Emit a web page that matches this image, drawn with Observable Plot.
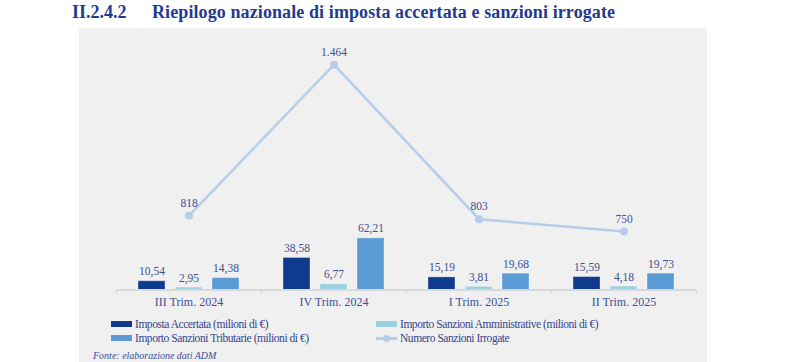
<!DOCTYPE html>
<html>
<head>
<meta charset="utf-8">
<script src="https://cdn.jsdelivr.net/npm/d3@7"></script>
<script src="https://cdn.jsdelivr.net/npm/@observablehq/plot@0.6"></script>
<style>
  html, body { margin: 0; padding: 0; background: #ffffff; width: 789px; height: 362px; overflow: hidden; }
  body { position: relative; font-family: 'Liberation Serif', 'DejaVu Serif', serif; }
  #title { position: absolute; top: 2px; left: 72px; font-weight: bold; font-size: 18px; color: #1f3b8f; white-space: nowrap; }
  #title .t2 { position: absolute; left: 80px; top: 0; letter-spacing: 0.1px; }
  #panel { position: absolute; left: 79px; top: 28px; width: 628px; height: 334px; background: #f0f0f0; }
  #panel svg { position: absolute; left: 0; top: 0; }
  .leg { position: absolute; font-size: 11.5px; letter-spacing: -0.45px; color: #34458c; white-space: nowrap; display: flex; align-items: center; }
  .sw { display: inline-block; width: 21px; height: 6px; margin-right: 3px; }
  .lsw { position: relative; display: inline-block; width: 21px; height: 8px; margin-right: 3px; }
  .lsw .ln { position: absolute; left: 0; top: 3px; width: 21px; height: 3px; background: #b6cde9; }
  .lsw .pt { position: absolute; left: 7px; top: 1px; width: 7px; height: 7px; border-radius: 50%; background: #b6cde9; }
  #source { position: absolute; left: 14px; top: 322px; font-size: 10px; font-style: italic; color: #3a4f9e; white-space: nowrap; }
</style>
</head>
<body>
<div id="title"><span>II.2.4.2</span><span class="t2">Riepilogo nazionale di imposta accertata e sanzioni irrogate</span></div>
<div id="panel"></div>
<script>
// ---- data ----
const categories = ["III Trim. 2024", "IV Trim. 2024", "I Trim. 2025", "II Trim. 2025"];
const seriesNames = [
  "Imposta Accertata (milioni di €)",
  "Importo Sanzioni Amministrative (milioni di €)",
  "Importo Sanzioni Tributarie (milioni di €)"
];
const impostaAccertata = [10.54, 38.58, 15.19, 15.59];
const sanzioniAmministrative = [2.95, 6.77, 3.81, 4.18];
const sanzioniTributarie = [14.38, 62.21, 19.68, 19.73];
const lineName = "Numero Sanzioni Irrogate";
const numeroSanzioni = [818, 1464, 803, 750];
const seriesColors = ["#0f3a8e", "#9ad0df", "#5b9bd5"];
const lineColor = "#b6cde9";

// ---- build tables ----
const seriesValues = [impostaAccertata, sanzioniAmministrative, sanzioniTributarie];
const bars = [];
categories.forEach((c, i) => seriesNames.forEach((s, j) => bars.push({cat: c, series: s, value: seriesValues[j][i]})));
const lineData = categories.map((c, i) => ({cat: c, value: numeroSanzioni[i]}));

const it = d3.formatLocale({decimal: ",", thousands: ".", grouping: [3], currency: ["", "€"]});
const fmt2 = it.format(",.2f");
const fmtInt = it.format(",d");

// ---- layout ----
const W = 628, H = 290, ML = 36, MR = 11, MT = 0, MB = 28.5;
const step = (W - ML - MR) / categories.length;
const font = "'Liberation Serif', 'DejaVu Serif', serif";
const labelColor = "#3e4f94";

const barPlot = Plot.plot({
  width: W, height: H, marginLeft: ML, marginRight: MR, marginTop: MT, marginBottom: MB,
  style: {background: "transparent", fontFamily: font, fontSize: "12px", overflow: "visible"},
  fx: {domain: categories, padding: 0, axis: null, label: null},
  x: {domain: seriesNames, paddingInner: 0.26, paddingOuter: 0.55, axis: null, label: null},
  y: {domain: [0, 315], axis: null},
  color: {domain: seriesNames, range: seriesColors},
  marks: [
    Plot.barY(bars, {fx: "cat", x: "series", y: "value", fill: "series", stroke: "#ffffff", strokeOpacity: 0.35, strokeWidth: 1}),
    Plot.ruleY([0], {stroke: "#d9d9d9", strokeWidth: 2}),
    Plot.text(bars, {fx: "cat", x: "series", y: "value", text: d => fmt2(d.value), lineAnchor: "bottom", dy: -6, fill: labelColor, fontSize: 11.5})
  ]
});

const linePlot = Plot.plot({
  width: W, height: H, marginLeft: ML, marginRight: MR, marginTop: MT, marginBottom: MB,
  style: {background: "transparent", fontFamily: font, fontSize: "12px", color: labelColor, overflow: "visible"},
  x: {type: "band", domain: categories, padding: 0, tickSize: 0, tickPadding: 7, label: null},
  y: {domain: [500, 1619], axis: null},
  marks: [
    Plot.ruleX(categories, {x: d => d, dx: -step / 2, stroke: "#d9d9d9", strokeWidth: 1.5, insetTop: H - MT - MB, insetBottom: -4}),
    Plot.ruleX(categories.slice(-1), {x: d => d, dx: step / 2, stroke: "#d9d9d9", strokeWidth: 1.5, insetTop: H - MT - MB, insetBottom: -4}),
    Plot.line(lineData, {x: "cat", y: "value", stroke: lineColor, strokeWidth: 2.5}),
    Plot.dot(lineData, {x: "cat", y: "value", fill: lineColor, r: 4}),
    Plot.text(lineData, {x: "cat", y: "value", text: d => fmtInt(d.value), lineAnchor: "bottom", dy: -9, fill: labelColor, fontSize: 11.5})
  ]
});

const panel = document.getElementById("panel");
panel.appendChild(barPlot);
panel.appendChild(linePlot);

// ---- legend ----
function legendItem(left, top, name, swatchHtml) {
  const d = document.createElement("div");
  d.className = "leg";
  d.style.left = left + "px";
  d.style.top = top + "px";
  d.innerHTML = swatchHtml + "<span>" + name + "</span>";
  panel.appendChild(d);
}
legendItem(32, 290, seriesNames[0], `<span class="sw" style="background:${seriesColors[0]}"></span>`);
legendItem(297, 290, seriesNames[1], `<span class="sw" style="background:${seriesColors[1]}"></span>`);
legendItem(32, 304, seriesNames[2], `<span class="sw" style="background:${seriesColors[2]}"></span>`);
legendItem(297, 304, lineName, `<span class="lsw"><span class="ln"></span><span class="pt"></span></span>`);

const src = document.createElement("div");
src.id = "source";
src.textContent = "Fonte: elaborazione dati ADM";
panel.appendChild(src);
</script>
</body>
</html>
